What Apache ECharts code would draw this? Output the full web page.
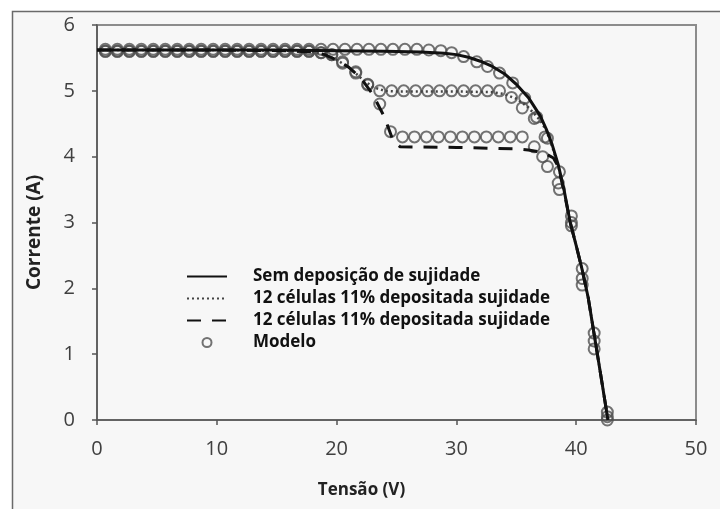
<!DOCTYPE html>
<html>
<head>
<meta charset="utf-8">
<script src="https://cdn.jsdelivr.net/npm/echarts@6/dist/echarts.min.js"></script>
<style>
html,body{margin:0;padding:0;background:#ffffff;}
#chart{width:720px;height:509px;}
</style>
</head>
<body>
<div id="chart"></div>
<script>
// Axis ticks
var xTicks = [0, 10, 20, 30, 40, 50];
var yTicks = [0, 1, 2, 3, 4, 5, 6];

// Series names / legend labels
var legendLabels = {
  s1: 'Sem deposição de sujidade',
  s2: '12 células 11% depositada sujidade',
  s3: '12 células 11% depositada sujidade',
  m: 'Modelo'
};

// Solid line: without soiling
var cleanV = [0, 5, 10, 15, 20, 24, 27, 29, 30, 31, 32, 33, 34, 35, 36, 37, 37.5, 38, 38.5, 39, 39.5, 40, 40.5, 41, 41.5, 42, 42.65];
var cleanI = [5.62, 5.62, 5.62, 5.62, 5.61, 5.6, 5.59, 5.57, 5.55, 5.51, 5.45, 5.37, 5.26, 5.1, 4.9, 4.62, 4.42, 4.18, 3.88, 3.48, 3.0, 2.65, 2.28, 1.86, 1.3, 0.74, 0.0];

// Dotted line: 12 cells soiled (upper plateau)
var dotV = [0, 10, 16, 18, 19, 20, 21, 22, 23, 24, 25, 30, 33, 34, 35, 36, 37, 37.5, 38, 38.5, 39, 39.5, 40, 40.5, 41, 41.5, 42, 42.65];
var dotI = [5.62, 5.62, 5.61, 5.59, 5.55, 5.47, 5.36, 5.2, 5.06, 5.0, 4.99, 4.99, 4.98, 4.95, 4.88, 4.75, 4.55, 4.4, 4.15, 3.86, 3.47, 3.0, 2.65, 2.28, 1.86, 1.3, 0.74, 0.0];

// Dashed line: 12 cells soiled (lower plateau)
var dashV = [0, 10, 16, 18, 19, 20, 21, 22, 23, 24, 24.7, 25.3, 30, 35, 36, 37, 37.6, 38.1, 38.5, 39, 39.5, 40, 40.5, 41, 41.5, 42, 42.65];
var dashI = [5.62, 5.62, 5.61, 5.59, 5.55, 5.47, 5.36, 5.2, 4.95, 4.6, 4.25, 4.15, 4.14, 4.12, 4.1, 4.07, 4.03, 3.98, 3.85, 3.46, 3.0, 2.65, 2.28, 1.86, 1.3, 0.74, 0.0];

// Model circles (three conditions)
var modelAV = [0.7, 1.7, 2.7, 3.7, 4.7, 5.7, 6.7, 7.7, 8.7, 9.7, 10.7, 11.7, 12.7, 13.7, 14.7, 15.7, 16.7, 17.7, 18.7, 19.7, 20.7, 21.7, 22.7, 23.7, 24.7, 25.7, 26.7, 27.7, 28.7, 29.6, 30.6, 31.7, 32.6, 33.6, 34.7, 35.7, 36.7, 37.6, 38.6, 39.6, 40.5, 41.5, 42.6];
var modelAI = [5.63, 5.63, 5.63, 5.63, 5.63, 5.63, 5.63, 5.63, 5.63, 5.63, 5.63, 5.63, 5.63, 5.63, 5.63, 5.63, 5.63, 5.63, 5.63, 5.63, 5.63, 5.63, 5.63, 5.63, 5.63, 5.63, 5.63, 5.62, 5.61, 5.58, 5.52, 5.44, 5.37, 5.27, 5.12, 4.89, 4.6, 4.28, 3.77, 3.1, 2.3, 1.32, 0.12];

var modelBV = [0.7, 1.7, 2.7, 3.7, 4.7, 5.7, 6.7, 7.7, 8.7, 9.7, 10.7, 11.7, 12.7, 13.7, 14.7, 15.7, 16.7, 17.7, 18.7, 19.6, 20.5, 21.6, 22.6, 23.6, 24.6, 25.6, 26.6, 27.6, 28.6, 29.6, 30.6, 31.6, 32.6, 33.6, 34.6, 35.5, 36.5, 37.4, 38.5, 39.6, 40.5, 41.5, 42.6];
var modelBI = [5.6, 5.6, 5.6, 5.6, 5.6, 5.6, 5.6, 5.6, 5.6, 5.6, 5.6, 5.6, 5.6, 5.6, 5.6, 5.6, 5.6, 5.6, 5.58, 5.55, 5.44, 5.29, 5.09, 5.0, 5.0, 5.0, 5.0, 5.0, 5.0, 5.0, 5.0, 5.0, 5.0, 5.0, 4.9, 4.74, 4.58, 4.3, 3.6, 3.0, 2.15, 1.2, 0.05];

var modelCV = [0.7, 1.7, 2.7, 3.7, 4.7, 5.7, 6.7, 7.7, 8.7, 9.7, 10.7, 11.7, 12.7, 13.7, 14.7, 15.7, 16.7, 17.7, 18.7, 19.6, 20.5, 21.6, 22.6, 23.6, 24.5, 25.5, 26.5, 27.5, 28.5, 29.5, 30.5, 31.5, 32.5, 33.5, 34.5, 35.5, 36.5, 37.2, 37.6, 38.6, 39.6, 40.5, 41.5, 42.6];
var modelCI = [5.6, 5.6, 5.6, 5.6, 5.6, 5.6, 5.6, 5.6, 5.6, 5.6, 5.6, 5.6, 5.6, 5.6, 5.6, 5.6, 5.6, 5.6, 5.58, 5.55, 5.42, 5.27, 5.1, 4.8, 4.38, 4.3, 4.3, 4.3, 4.3, 4.3, 4.3, 4.3, 4.3, 4.3, 4.3, 4.3, 4.15, 4.0, 3.85, 3.5, 2.95, 2.05, 1.08, 0.0];

function pairs(xs, ys) {
  var out = [];
  for (var i = 0; i < xs.length; i++) out.push([xs[i], ys[i]]);
  return out;
}

var FONT = 'Open Sans';
var chart = echarts.init(document.getElementById('chart'), null, {renderer: 'canvas'});

var circleStyle = {
  color: 'rgba(0,0,0,0)',
  borderColor: '#505050',
  borderWidth: 2
};
var hiddenSymbol = {color: 'rgba(0,0,0,0)', borderColor: 'rgba(0,0,0,0)', borderWidth: 0, opacity: 0};

chart.setOption({
  backgroundColor: '#ffffff',
  animation: false,
  graphic: [{
    type: 'rect',
    z: -10,
    silent: true,
    shape: {x: 12.5, y: 11.5, width: 720, height: 520},
    style: {fill: '#f7f7f7', stroke: '#6a6a6a', lineWidth: 1.5}
  }],
  grid: {
    left: 97, right: 24, top: 25, bottom: 89,
    show: true,
    backgroundColor: 'rgba(0,0,0,0)',
    borderColor: '#8c8c8c',
    borderWidth: 2
  },
  legend: {
    orient: 'vertical',
    left: 181,
    top: 263,
    itemWidth: 40,
    itemHeight: 9,
    itemGap: 5,
    data: [
      {name: 's1', itemStyle: hiddenSymbol},
      {name: 's2', itemStyle: hiddenSymbol},
      {name: 's3', itemStyle: hiddenSymbol},
      {name: 'm'}
    ],
    formatter: function (n) { return legendLabels[n]; },
    textStyle: {
      fontFamily: FONT, fontSize: 17, fontWeight: 'bold', color: '#111',
      padding: [0, 0, 0, 21]
    }
  },
  xAxis: {
    type: 'value',
    min: xTicks[0], max: xTicks[xTicks.length - 1], interval: 10,
    name: 'Tensão (V)',
    nameLocation: 'middle',
    nameGap: 62,
    nameTextStyle: {fontFamily: FONT, fontSize: 17, fontWeight: 'bold', color: '#222', padding: [0, 70, 0, 0]},
    axisLine: {show: true, lineStyle: {color: '#555', width: 1.5}},
    axisTick: {show: true, inside: false, length: 5, lineStyle: {color: '#555', width: 1.5}},
    splitLine: {show: false},
    axisLabel: {fontFamily: FONT, fontSize: 20, color: '#404040', margin: 19}
  },
  yAxis: {
    type: 'value',
    min: yTicks[0], max: yTicks[yTicks.length - 1], interval: 1,
    name: 'Corrente (A)',
    nameLocation: 'middle',
    nameGap: 53,
    nameTextStyle: {fontFamily: FONT, fontSize: 19, fontWeight: 'bold', color: '#222', padding: [0, 20, 0, 0]},
    axisLine: {show: true, lineStyle: {color: '#555', width: 1.5}},
    axisTick: {show: true, inside: false, length: 5, lineStyle: {color: '#555', width: 1.5}},
    splitLine: {show: false},
    axisLabel: {fontFamily: FONT, fontSize: 20, color: '#404040', margin: 22}
  },
  series: [
    {
      name: 'm', type: 'scatter', z: 2, symbol: 'circle', symbolSize: 11,
      itemStyle: circleStyle, data: pairs(modelAV, modelAI)
    },
    {
      name: 'm', type: 'scatter', z: 2, symbol: 'circle', symbolSize: 11,
      itemStyle: circleStyle, data: pairs(modelBV, modelBI)
    },
    {
      name: 'm', type: 'scatter', z: 2, symbol: 'circle', symbolSize: 11,
      itemStyle: circleStyle, data: pairs(modelCV, modelCI)
    },
    {
      name: 's2', type: 'line', z: 3, symbol: 'none',
      itemStyle: {color: '#444'},
      lineStyle: {color: '#444', width: 2.5, type: [2, 3]},
      data: pairs(dotV, dotI)
    },
    {
      name: 's3', type: 'line', z: 3, symbol: 'none',
      itemStyle: {color: '#111'},
      lineStyle: {color: '#111', width: 3, type: [14, 11]},
      data: pairs(dashV, dashI)
    },
    {
      name: 's1', type: 'line', z: 4, symbol: 'none',
      itemStyle: {color: '#111'},
      lineStyle: {color: '#111', width: 3},
      data: pairs(cleanV, cleanI)
    }
  ]
});
</script>
</body>
</html>
